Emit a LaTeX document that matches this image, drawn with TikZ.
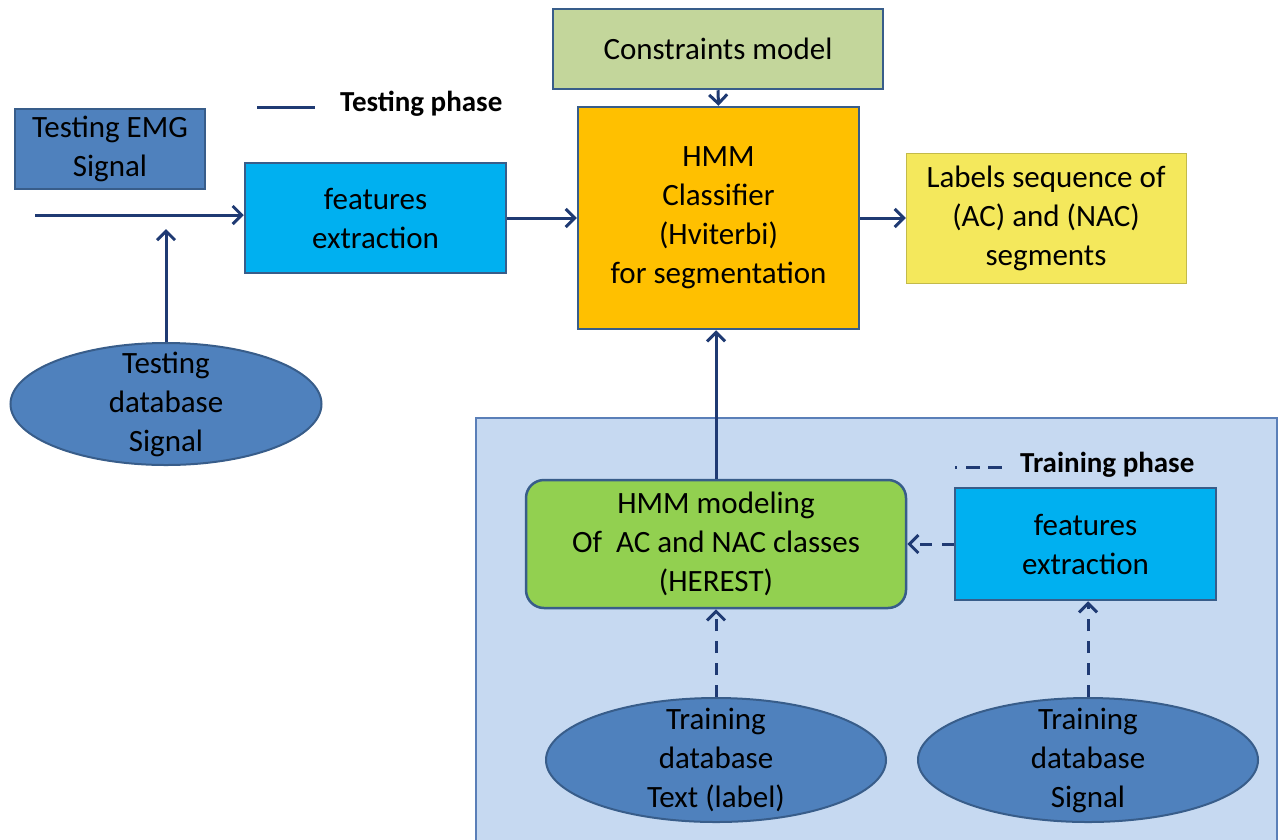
\documentclass[tikz,border=0pt]{standalone}
\usepackage{fontspec}
\setmainfont{Carlito}
\usetikzlibrary{shapes.geometric,arrows.meta}
\definecolor{boxblue}{HTML}{4F81BD}
\definecolor{boxedge}{HTML}{385D8A}
\definecolor{cyanfill}{HTML}{00B0F0}
\definecolor{constr}{HTML}{C3D69B}
\definecolor{hmmorange}{HTML}{FFC000}
\definecolor{labyellow}{HTML}{F4E85C}
\definecolor{panelfill}{HTML}{C6D9F1}
\definecolor{paneledge}{HTML}{5A7FB8}
\definecolor{modgreen}{HTML}{92D050}
\definecolor{arrowc}{HTML}{1F3A73}
\tikzset{
  x=1pt, y=-1pt,
  txt/.style={font=\fontsize{31}{39}\selectfont, align=center, text=black},
  blk/.style={txt, draw=boxedge, line width=2.5pt, inner sep=0pt},
  ell/.style={ellipse, draw=boxedge, line width=2pt, fill=boxblue, inner sep=0pt},
  conn/.style={draw=arrowc, line width=3pt, -{Straight Barb[length=9pt,width=18pt,line width=3pt]}},
  dconn/.style={conn, dash pattern=on 12pt off 10pt},
  legend/.style={font=\fontsize{29}{34}\bfseries\selectfont, text=black, anchor=west, inner sep=0pt},
}
\begin{document}
\begin{tikzpicture}
\useasboundingbox (0,0) rectangle (1281,839);
% training panel
\path[fill=panelfill, draw=paneledge, line width=2.5pt] (476,418) rectangle (1277,845);

% nodes
\node[blk, fill=boxblue, minimum width=190pt, minimum height=80pt] (emg) at (110,149) {Testing EMG\\Signal};
\node[blk, fill=cyanfill, minimum width=261pt, minimum height=110pt] (fe1) at (375.5,218) {features\\extraction};
\node[ell, minimum width=311pt, minimum height=122pt] (tdb) at (166,404) {};
\node[txt] (tdbt) at (tdb) {Testing\\database\\Signal};
\node[blk, fill=constr, minimum width=330pt, minimum height=80pt] (cons) at (718,49) {Constraints model};
\node[blk, fill=hmmorange, minimum width=281pt, minimum height=222pt] (hmm) at (718.5,218) {HMM\\Classifier\\(Hviterbi)\\for segmentation};
\node[txt, fill=labyellow, draw=labyellow!80!black, line width=0.5pt, inner sep=0pt, minimum width=280pt, minimum height=130pt] (lab) at (1046,218) {Labels sequence of\\(AC) and (NAC)\\segments};
\node[blk, fill=modgreen, rounded corners=18pt, minimum width=380pt, minimum height=128pt] (mod) at (716,544) {HMM modeling\\Of~ AC and NAC classes\\(HEREST)};
\node[blk, fill=cyanfill, minimum width=261pt, minimum height=112pt] (fe2) at (1085.5,544) {features\\extraction};
\node[ell, minimum width=340pt, minimum height=124pt] (trt) at (716,760) {};
\node[txt] (trtt) at (trt) {Training\\database\\Text (label)};
\node[ell, minimum width=340pt, minimum height=124pt] (trs) at (1088,760) {};
\node[txt] (trst) at (trs) {Training\\database\\Signal};

% legends
\coordinate (tl1) at (257,107);
\coordinate (tl2) at (315,107);
\draw[arrowc, line width=3pt] (tl1) -- (tl2);
\node[legend] (tlab) at (340,104) {Testing phase};
\coordinate (dl1) at (955,467);
\coordinate (dl2) at (1010,467);
\draw[arrowc, line width=3pt, dash pattern=on 2pt off 9pt on 14pt off 8pt on 14pt off 8pt] (dl1) -- (dl2);
\node[legend] (dlab) at (1020,465) {Training phase};

% connectors
\coordinate (in) at (35,215);
\coordinate (j) at (166,215);
\draw[conn] (in) -- (fe1.west |- in);
\draw[conn] (tdb.north) -- ([yshift=-14pt]j);
\draw[conn] (fe1.east) -- (hmm.west);
\draw[conn] (cons.south) -- (hmm.north);
\draw[conn] (hmm.east) -- (lab.west);
\draw[conn] (mod.north) -- (mod.north |- hmm.south);
\draw[dconn] (fe2.west) -- (mod.east);
\draw[dconn] (trt.north) -- (mod.south);
\draw[dconn] (trs.north) -- (trs.north |- fe2.south);
\end{tikzpicture}
\end{document}
